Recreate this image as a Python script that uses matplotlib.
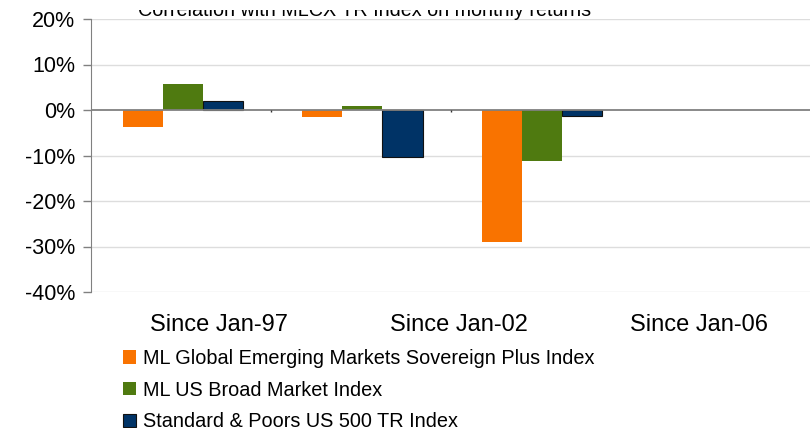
import matplotlib.pyplot as plt
import numpy as np
from matplotlib.transforms import Bbox, TransformedBbox

plt.rcParams['font.family'] = ['Liberation Sans', 'DejaVu Sans']

categories = ["Since Jan-97", "Since Jan-02", "Since Jan-06"]
series_names = ["ML Global Emerging Markets Sovereign Plus Index",
                "ML US Broad Market Index",
                "Standard & Poors US 500 TR Index"]
em_sov = [-3.7, -1.5, -29.0]
us_broad = [5.7, 0.9, -11.2]
sp500 = [2.0, -10.3, -1.3]
yticks = [20, 10, 0, -10, -20, -30, -40]

colors = ["#F97300", "#4F7A10", "#003366"]
edges = ["none", "none", "#111111"]

fig = plt.figure(figsize=(8.1, 4.28), dpi=100)
ax = fig.add_axes([91/810, 1 - 292/428, 1 - 91/810, (292 - 19)/428])

x = np.arange(len(categories))
w = 0.223
handles = []
for i, (vals, name) in enumerate(zip([em_sov, us_broad, sp500], series_names)):
    b = ax.bar(x + (i - 1) * w + 0.01, vals, w, color=colors[i], edgecolor=edges[i],
               linewidth=0.8, label=name, zorder=3)
    handles.append(b)

ax.set_xlim(-0.5, 3.5)
ax.set_ylim(-40, 20)
ax.set_yticks(yticks)
ax.set_yticklabels([f"{t}%" for t in yticks])
for t in yticks:
    if t != 0:
        ax.axhline(t, color="#dddddd", linewidth=1, zorder=1)
ax.axhline(0, color="#808080", linewidth=1.3, zorder=4)
# category boundary ticks below the zero line
ax.vlines([0.5, 1.5], -0.5, 0, color="#333333", linewidth=1, zorder=4)

# labels in the original sit on a wider spacing than the bars
ax.set_xticks(0.212 + 1.335 * x)
ax.set_xticklabels(categories)
ax.tick_params(axis="x", length=0, pad=16, labelsize=17)
ax.tick_params(axis="y", length=6, width=1, color="#808080", pad=5.5, labelsize=15.5)
for s in ["top", "right", "bottom"]:
    ax.spines[s].set_visible(False)
ax.spines["left"].set_color("#808080")

# title is cropped at the top in the original
title = fig.text(0.45, 1 - 16/428, "Correlation with MLCX TR Index on monthly returns",
                 ha="center", va="baseline", fontsize=14.2)
title.set_clip_box(TransformedBbox(Bbox([[0, 0], [1, 1 - 9.5/428]]), fig.transFigure))
title.set_clip_on(True)

fig.legend(handles=handles, loc="upper left", bbox_to_anchor=(123/810, 1 - 349/428),
           frameon=False, fontsize=14.3, handlelength=0.65, handleheight=0.65,
           handletextpad=0.35, labelspacing=0.64, borderaxespad=0, borderpad=0)

fig.savefig("out.png", dpi=100)
